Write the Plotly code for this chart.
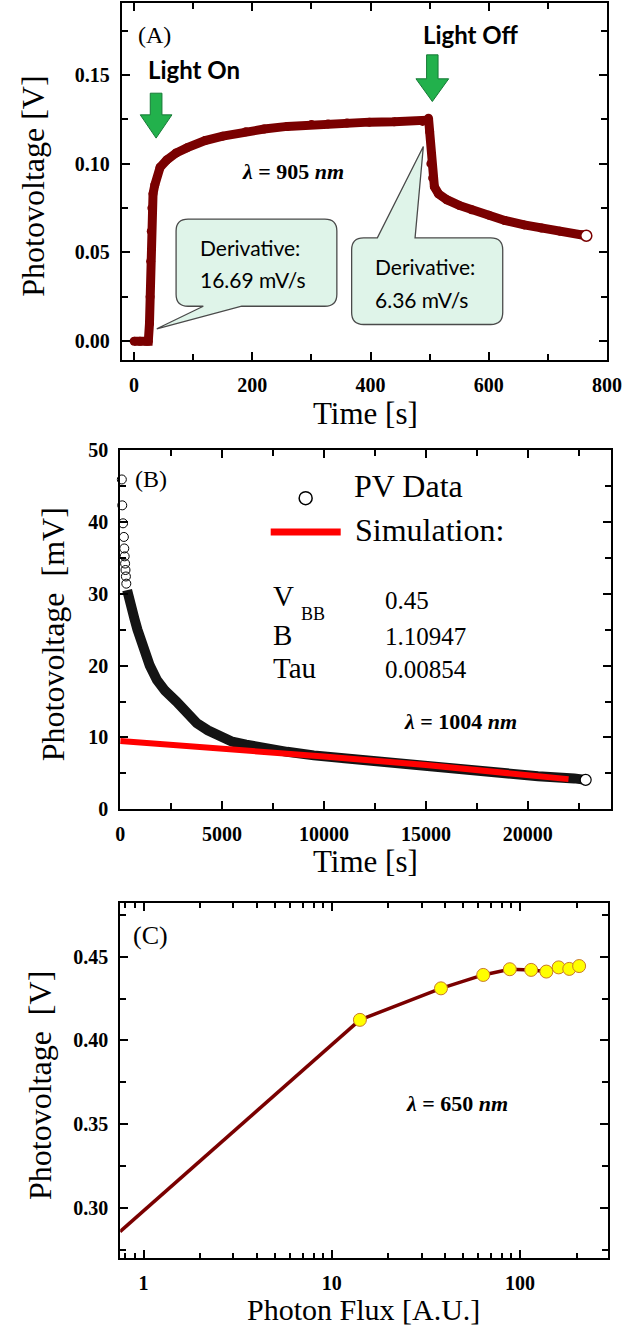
import math
import plotly.graph_objects as go

# ---------------- Panel A : photovoltage transient (905 nm) ----------------
time_a = [0, 10, 20, 24, 26, 27, 28, 29, 30, 32, 35, 44, 55, 71, 90, 120, 150, 189, 220,
          259, 300, 328, 360, 398, 440, 488, 496, 498, 500, 502, 505, 508, 515, 529, 550,
          571, 600, 627, 660, 689, 720, 758, 765]
pv_a = [0.0, 0.0, 0.0, 0.0, 0.01, 0.025, 0.045, 0.062, 0.075, 0.083, 0.088, 0.098, 0.102,
        0.106, 0.109, 0.113, 0.1155, 0.118, 0.1195, 0.121, 0.122, 0.1224, 0.1229, 0.1234,
        0.1236, 0.1238, 0.1245, 0.1256, 0.118, 0.100, 0.092, 0.087, 0.083, 0.0797, 0.0765,
        0.074, 0.071, 0.068, 0.0655, 0.0637, 0.062, 0.060, 0.0594]

# ---------------- Panel B : decay (1004 nm) ----------------
time_b_early = [80, 100, 140, 180, 200, 220, 240, 260, 280, 300]
pv_b_early = [45.9, 42.3, 39.8, 37.9, 36.3, 35.2, 34.2, 33.3, 32.4, 31.4]
time_b = [340, 400, 550, 700, 845, 1000, 1200, 1450, 1800, 2200, 2760, 3200, 3760, 4300,
          4970, 5500, 6180, 7000, 8190, 9500, 11200, 13000, 14630, 16500, 18650, 20500,
          22280, 22840]
pv_b = [30.5, 29.5, 28, 26.5, 25, 23.5, 22, 20, 18, 16.5, 15, 13.5, 12, 11, 10, 9.4, 9,
        8.5, 8, 7.5, 7, 6.5, 6, 5.5, 5, 4.6, 4.3, 4.1]
time_sim = [0, 5000, 10000, 15000, 20000, 22000]
pv_sim = [9.5, 8.5, 7.35, 6.15, 4.85, 4.2]
params_names = ["V", "B", "Tau"]
params_values = ["0.45", "1.10947", "0.00854"]

# ---------------- Panel C : photovoltage vs photon flux (650 nm) ----------------
flux_trend = [0.75, 14.1]
pv_trend = [0.286, 0.4123]
flux_c = [14.1, 38.0, 63.7, 88.2, 114.5, 137.9, 160.3, 182.5, 205.9]
pv_c = [0.4123, 0.4311, 0.4391, 0.4425, 0.4421, 0.4411, 0.4436, 0.4427, 0.4444]

W, H = 642, 1329
SERIF = "Liberation Serif"
SANS = "Lato"
DARKRED = "#7a0000"
GREEN = "#22b14c"
MINT = "#dff4e9"


def px_x(p):
    return p / W


def px_y(p):
    return 1 - p / H


fig = go.Figure()

# Panel A traces
fig.add_trace(go.Scatter(x=time_a, y=pv_a, xaxis="x", yaxis="y", mode="lines+markers",
                         line=dict(color=DARKRED, width=9),
                         marker=dict(size=9, color=DARKRED, line=dict(width=0)),
                         hoverinfo="skip"))
fig.add_trace(go.Scatter(x=[time_a[-1]], y=[pv_a[-1]], xaxis="x", yaxis="y", mode="markers",
                         marker=dict(size=11, color="white", line=dict(color=DARKRED, width=1.5)),
                         cliponaxis=False, hoverinfo="skip"))

# Panel B traces
fig.add_trace(go.Scatter(x=time_b_early, y=pv_b_early, xaxis="x2", yaxis="y2", mode="markers",
                         marker=dict(symbol="circle-open", size=9, color="black", line=dict(width=1)),
                         cliponaxis=False, hoverinfo="skip"))
fig.add_trace(go.Scatter(x=time_b, y=pv_b, xaxis="x2", yaxis="y2", mode="lines",
                         line=dict(color="#141414", width=10), hoverinfo="skip"))
fig.add_trace(go.Scatter(x=time_sim, y=pv_sim, xaxis="x2", yaxis="y2", mode="lines",
                         line=dict(color="#ff0000", width=6), hoverinfo="skip"))
fig.add_trace(go.Scatter(x=[time_b[-1]], y=[pv_b[-1]], xaxis="x2", yaxis="y2", mode="markers",
                         marker=dict(size=11, color="white", line=dict(color="black", width=1.2)),
                         cliponaxis=False, hoverinfo="skip"))

# Panel C traces
fig.add_trace(go.Scatter(x=flux_trend, y=pv_trend, xaxis="x3", yaxis="y3", mode="lines",
                         line=dict(color=DARKRED, width=3.5), hoverinfo="skip"))
fig.add_trace(go.Scatter(x=flux_c, y=pv_c, xaxis="x3", yaxis="y3", mode="lines+markers",
                         line=dict(color=DARKRED, width=3.5),
                         marker=dict(size=13, color="#ffff00", line=dict(color="#c8782a", width=1)),
                         hoverinfo="skip"))


def axis(domain, anchor, rng, dtick, minor_dtick, standoff, **kw):
    d = dict(domain=domain, anchor=anchor, range=rng, dtick=dtick, tick0=0,
             automargin=False,
             showline=True, linecolor="black", linewidth=2, mirror="allticks",
             ticks="inside", ticklen=8, tickwidth=2, tickcolor="black",
             showgrid=False, zeroline=False, ticklabelstandoff=standoff,
             tickfont=dict(family=SERIF, size=20, color="black", weight="bold"),
             minor=dict(ticks="inside", ticklen=6, tickwidth=2, tickcolor="black",
                        dtick=minor_dtick, tick0=0, showgrid=False))
    d.update(kw)
    return d


dom_a_x = [px_x(121.7), px_x(607)]
dom_a_y = [px_y(359.5), px_y(3)]
dom_b_x = [px_x(120.2), px_x(611)]
dom_b_y = [px_y(809.3), px_y(450)]
dom_c_x = [px_x(120.2), px_x(608)]
dom_c_y = [px_y(1258.3), px_y(902.5)]

fig.update_layout(
    template="none",
    width=W, height=H, autosize=False,
    margin=dict(l=0, r=0, t=0, b=0, pad=0),
    paper_bgcolor="white", plot_bgcolor="white", showlegend=False,
    xaxis=axis(dom_a_x, "y", [-21, 800], 200, 100, 6),
    yaxis=axis(dom_a_y, "x", [-0.0103, 0.1905], 0.05, 0.025, 6, tickformat=".2f"),
    xaxis2=axis(dom_b_x, "y2", [0, 24083], 5000, 2500, 6, tickformat="d"),
    yaxis2=axis(dom_b_y, "x2", [0, 50], 10, 5, 6),
    xaxis3=axis(dom_c_x, "y3", [-0.124, 2.467], 1, "D1", 6, type="log"),
    yaxis3=axis(dom_c_y, "x3", [0.2701, 0.4823], 0.05, 0.025, 6, tickformat=".2f"),
)
fig.layout.xaxis3.minor.tick0 = None
fig.layout.xaxis3.minor.ticklen = 5

annotations = []


def ann(text, x, y, xref, yref, size, family=SERIF, xanchor="center", yanchor="middle",
        angle=0, color="black"):
    annotations.append(dict(text=text, x=x, y=y, xref=xref, yref=yref, showarrow=False,
                            xanchor=xanchor, yanchor=yanchor, textangle=angle,
                            font=dict(family=family, size=size, color=color)))


# Axis titles
ann("Photovoltage [V]", px_x(33), px_y(186.7), "paper", "paper", 32, angle=-90)
ann("Time [s]", px_x(365), px_y(413), "paper", "paper", 31)
ann("Photovoltage&nbsp; [mV]", px_x(53.3), px_y(634), "paper", "paper", 32, angle=-90)
ann("Time [s]", px_x(365), px_y(861.7), "paper", "paper", 31)
ann("Photovoltage&nbsp; [V]", px_x(40), px_y(1086), "paper", "paper", 32, angle=-90)
ann("Photon Flux [A.U.]", px_x(364), px_y(1309), "paper", "paper", 30)

# Panel A texts
ann("(A)", 34.5, 0.1722, "x", "y", 24)
ann("<b>Light On</b>", 101.5, 0.1528, "x", "y", 24, family=SANS)
ann("<b>Light Off</b>", 569.5, 0.1728, "x", "y", 24, family=SANS)
ann("<b><i>λ</i> = 905 <i>nm</i></b>", 269.5, 0.0956, "x", "y", 22)
ann("Derivative:", 108.8, 0.0527, "x", "y", 21, family=SANS, xanchor="left")
ann("16.69 mV/s", 108.8, 0.0347, "x", "y", 21, family=SANS, xanchor="left")
ann("Derivative:", 404.7, 0.0418, "x", "y", 21, family=SANS, xanchor="left")
ann("6.36 mV/s", 404.7, 0.0235, "x", "y", 21, family=SANS, xanchor="left")

# Panel B texts
ann("(B)", 1510, 45.9, "x2", "y2", 24)
ann("PV Data", 11360, 45.0, "x2", "y2", 32, xanchor="left")
ann("Simulation:", 11440, 38.9, "x2", "y2", 32, xanchor="left")
ann(params_names[0], 7420, 29.7, "x2", "y2", 29, xanchor="left")
ann("BB", 8790, 27.2, "x2", "y2", 18, xanchor="left")
ann(params_names[1], 7420, 24.2, "x2", "y2", 29, xanchor="left")
ann(params_names[2], 7420, 19.7, "x2", "y2", 29, xanchor="left")
for val, yv in zip(params_values, [29.1, 24.0, 19.5]):
    ann(val, 12910, yv, "x2", "y2", 25, xanchor="left")
ann("<b><i>λ</i> = 1004 <i>nm</i></b>", 16690, 12.2, "x2", "y2", 22)

# Panel C texts (log axis: annotation x given in log10 units)
ann("(C)", math.log10(1.094), 0.4629, "x3", "y3", 26)
ann("<b><i>λ</i> = 650 <i>nm</i></b>", math.log10(46.4), 0.3622, "x3", "y3", 22)

fig.update_layout(annotations=annotations)

shapes = []


def arrow_path(cx, sw, hw, yt, yh, ytip):
    return (f"M {cx - sw},{yt} L {cx + sw},{yt} L {cx + sw},{yh} L {cx + hw},{yh} "
            f"L {cx},{ytip} L {cx - hw},{yh} L {cx - sw},{yh} Z")


for cx, sw, hw, yt, yh, ytip in [(37.2, 9.9, 26.8, 0.1397, 0.1275, 0.1144),
                                  (504.5, 9.7, 27.7, 0.1613, 0.1478, 0.135)]:
    shapes.append(dict(type="path", xref="x", yref="y", path=arrow_path(cx, sw, hw, yt, yh, ytip),
                       fillcolor=GREEN, line=dict(color="#167a36", width=1)))

RX, RY = 20.3, 0.00675


def callout_bottom(x0, x1, y0, y1, bl, br, tx, ty):
    return (f"M {x0 + RX},{y1} L {x1 - RX},{y1} Q {x1},{y1} {x1},{y1 - RY} "
            f"L {x1},{y0 + RY} Q {x1},{y0} {x1 - RX},{y0} L {br},{y0} L {tx},{ty} "
            f"L {bl},{y0} L {x0 + RX},{y0} Q {x0},{y0} {x0},{y0 + RY} "
            f"L {x0},{y1 - RY} Q {x0},{y1} {x0 + RX},{y1} Z")


def callout_top(x0, x1, y0, y1, bl, br, tx, ty):
    return (f"M {x0 + RX},{y1} L {bl},{y1} L {tx},{ty} L {br},{y1} L {x1 - RX},{y1} "
            f"Q {x1},{y1} {x1},{y1 - RY} L {x1},{y0 + RY} Q {x1},{y0} {x1 - RX},{y0} "
            f"L {x0 + RX},{y0} Q {x0},{y0} {x0},{y0 + RY} L {x0},{y1 - RY} "
            f"Q {x0},{y1} {x0 + RX},{y1} Z")


shapes.append(dict(type="path", xref="x", yref="y", layer="above",
                   path=callout_bottom(71, 343, 0.0197, 0.0688, 117, 182, 38.4, 0.0070),
                   fillcolor=MINT, line=dict(color="#4a4a4a", width=1.3)))
shapes.append(dict(type="path", xref="x", yref="y", layer="above",
                   path=callout_top(368, 623.6, 0.0094, 0.0582, 411.5, 475.3, 489.3, 0.1097),
                   fillcolor=MINT, line=dict(color="#4a4a4a", width=1.3)))

# Panel B legend glyphs
shapes.append(dict(type="circle", xref="x2", yref="y2", xsizemode="pixel", ysizemode="pixel",
                   xanchor=9100, yanchor=43.3, x0=-6.5, x1=6.5, y0=-6.5, y1=6.5,
                   fillcolor="white", line=dict(color="black", width=1.5)))
shapes.append(dict(type="line", xref="x2", yref="y2", x0=7385, x1=10820, y0=38.6, y1=38.6,
                   line=dict(color="#ff0000", width=7)))

fig.update_layout(shapes=shapes)

fig.write_html("out.html", config={"displayModeBar": False},
               post_script="document.body.style.margin='0';document.body.style.overflow='hidden';")
